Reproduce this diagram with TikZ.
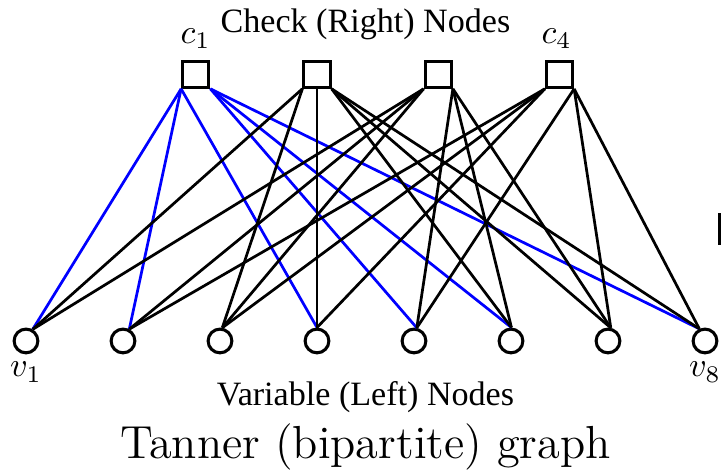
\documentclass[tikz,border=0pt]{standalone}
\usepackage{fontspec}
\newfontfamily\labelfont{Liberation Serif}
\usetikzlibrary{positioning}
\tikzset{
  check/.style={draw, rectangle, minimum size=0.27cm, inner sep=0pt, line width=0.9pt},
  var/.style={draw, circle, minimum size=0.245cm, inner sep=0pt, line width=0.9pt},
  edge/.style={line width=0.8pt},
  cedge/.style={edge, blue}
}

\begin{document}
\begin{tikzpicture}

\useasboundingbox (-0.268,-1.320) rectangle (7.165,3.515);

% Variable nodes v1..v8 along the bottom
\foreach \i in {1,...,8}
{
    \node[var] (v\i) at (\i-1,0) {};
}

% Check nodes c1..c4 along the top
\foreach \j/\x in {1/1.75,2/3,3/4.25,4/5.5}
{
    \node[check] (c\j) at (\x,2.75) {};
}

% Where the edges meet each variable node
\foreach \i/\a in {1/60,2/62,3/80,4/90,5/78,6/88,7/78,8/115}
{
    \coordinate (t\i) at (v\i.\a);
}

% c1 (highlighted in blue)
\foreach \i in {1,2,4}
    \draw[cedge] (c1.south west) -- (t\i);
\foreach \i in {5,6,8}
    \draw[cedge] (c1.south east) -- (t\i);

% c2
\foreach \i in {1,3}
    \draw[edge] (c2.south west) -- (t\i);
\draw[edge] (c2.south) -- (t4);
\foreach \i in {6,7,8}
    \draw[edge] (c2.south east) -- (t\i);

% c3
\foreach \i in {1,2,3}
    \draw[edge] (c3.south west) -- (t\i);
\foreach \i in {5,6,7}
    \draw[edge] (c3.south east) -- (t\i);

% c4
\foreach \i in {2,3,4}
    \draw[edge] (c4.south west) -- (t\i);
\foreach \i in {5,7,8}
    \draw[edge] (c4.south east) -- (t\i);

% Labels
\node[anchor=base] (lc1) at (1.75,3.07) {$c_1$};
\node[anchor=base] (lc4) at (5.47,3.07) {$c_4$};
\node[anchor=base] (lv1) at (0,-0.371) {$v_1$};
\node[anchor=base] (lv8) at (7,-0.371) {$v_8$};
\node[anchor=base, font=\labelfont] (chk) at (3.5,3.175) {Check (Right) Nodes};
\node[anchor=base, font=\labelfont] (varl) at (3.5,-0.67) {Variable (Left) Nodes};
\node[anchor=base, font=\fontsize{13.6}{16}\selectfont] (title) at (3.5,-1.216) {Tanner (bipartite) graph};

% bit of a letter at the right edge
\fill (7.134,0.99) rectangle (7.165,1.32);

\end{tikzpicture}
\end{document}
